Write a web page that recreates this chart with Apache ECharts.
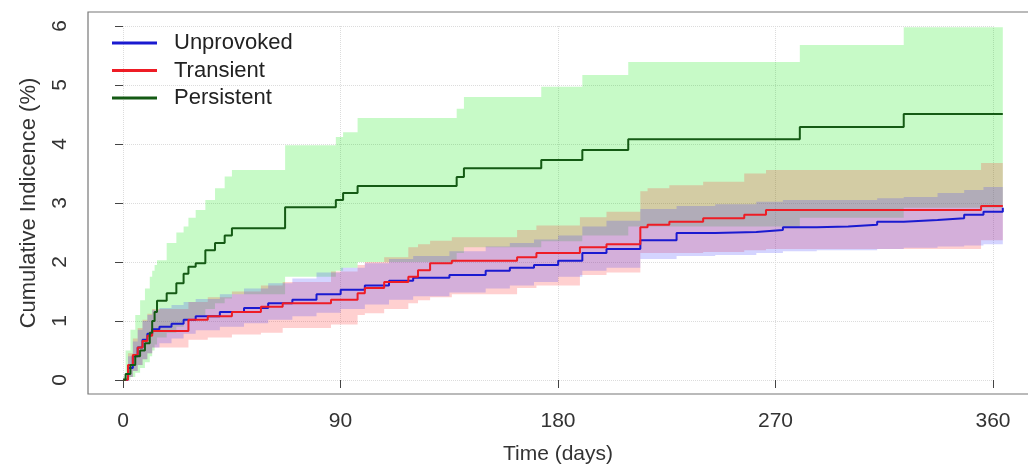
<!DOCTYPE html>
<html>
<head>
<meta charset="utf-8">
<title>Cumulative incidence</title>
<script src="https://cdn.jsdelivr.net/npm/echarts@6/dist/echarts.min.js"></script>
<style>
  html, body { margin: 0; padding: 0; background: #fff; }
  #chart { width: 1028px; height: 468px; }
</style>
</head>
<body>
<div id="chart"></div>
<script>
// ── axis ticks ──
var xTicks = [0, 90, 180, 270, 360];
var yTicks = [0, 1, 2, 3, 4, 5, 6];

// ── Unprovoked ──
var unprovDays = [0, 2, 4, 6, 8, 10, 12, 15, 20, 25, 30, 40, 50, 60, 70, 80, 90, 100, 110, 120,
  135, 150, 160, 170, 180, 190, 200, 214, 229, 245, 262, 273, 287, 300, 312, 323, 337, 348, 356, 364];
var unprovEst = [0, 0.2, 0.4, 0.55, 0.68, 0.78, 0.86, 0.9, 0.95, 1.02, 1.08, 1.15, 1.22, 1.3, 1.36, 1.45, 1.53, 1.6, 1.68, 1.73,
  1.78, 1.85, 1.9, 1.95, 2.02, 2.15, 2.22, 2.37, 2.49, 2.51, 2.54, 2.59, 2.6, 2.63, 2.68, 2.71, 2.74, 2.8, 2.85, 2.92];
var unprovLo = [0, 0.05, 0.15, 0.25, 0.35, 0.45, 0.55, 0.62, 0.7, 0.78, 0.84, 0.9, 0.96, 1.02, 1.08, 1.14, 1.2, 1.28, 1.36, 1.42,
  1.48, 1.55, 1.6, 1.66, 1.75, 1.85, 1.9, 2.05, 2.1, 2.12, 2.15, 2.18, 2.2, 2.2, 2.22, 2.24, 2.26, 2.28, 2.3, 2.35];
var unprovHi = [0, 0.4, 0.65, 0.85, 1.0, 1.1, 1.18, 1.22, 1.27, 1.32, 1.37, 1.45, 1.55, 1.64, 1.72, 1.82, 1.9, 1.98, 2.05, 2.1,
  2.18, 2.26, 2.32, 2.38, 2.45, 2.6, 2.7, 2.9, 2.95, 2.98, 3.02, 3.05, 3.05, 3.05, 3.08, 3.1, 3.17, 3.22, 3.27, 3.34];

// ── Transient ──
var transDays = [0, 2, 4, 6, 8, 10, 12, 27, 35, 45, 57, 66, 86, 97, 100, 108, 118, 122, 127, 136,
  163, 171, 189, 200, 214, 217, 226, 240, 257, 266, 355, 364];
var transEst = [0, 0.25, 0.42, 0.55, 0.66, 0.75, 0.83, 1.02, 1.08, 1.15, 1.24, 1.3, 1.36, 1.47, 1.56, 1.66, 1.75, 1.86, 1.98, 2.02,
  2.08, 2.15, 2.25, 2.3, 2.59, 2.63, 2.68, 2.74, 2.8, 2.88, 2.95, 2.95];
var transLo = [0, 0.05, 0.15, 0.25, 0.35, 0.45, 0.55, 0.68, 0.72, 0.77, 0.8, 0.88, 0.94, 1.1, 1.13, 1.2, 1.3, 1.35, 1.4, 1.45,
  1.56, 1.6, 1.78, 1.82, 2.15, 2.15, 2.15, 2.17, 2.2, 2.22, 2.37, 2.37];
var transHi = [0, 0.45, 0.7, 0.88, 1.02, 1.12, 1.2, 1.32, 1.4, 1.5, 1.6, 1.66, 1.84, 1.95, 2.0, 2.08, 2.25, 2.3, 2.36, 2.42,
  2.54, 2.62, 2.76, 2.85, 3.2, 3.25, 3.3, 3.36, 3.5, 3.56, 3.68, 3.68];

// ── Persistent ──
var persDays = [0, 1, 3, 5, 7, 9, 11, 12, 13, 14, 18, 22, 25, 27, 30, 34, 38, 42, 45, 67,
  88, 91, 97, 138, 141, 173, 190, 209, 280, 323, 364];
var persEst = [0, 0.1, 0.25, 0.4, 0.5, 0.62, 0.8, 1.0, 1.15, 1.34, 1.47, 1.64, 1.8, 1.92, 1.98, 2.2, 2.32, 2.45, 2.57, 2.93,
  3.05, 3.17, 3.29, 3.44, 3.59, 3.73, 3.9, 4.08, 4.29, 4.51, 4.51];
var persLo = [0, 0, 0.05, 0.12, 0.2, 0.3, 0.4, 0.5, 0.6, 0.72, 0.8, 0.9, 1.0, 1.05, 1.1, 1.2, 1.3, 1.38, 1.45, 1.75,
  1.85, 1.9, 2.0, 2.15, 2.25, 2.35, 2.45, 2.6, 2.75, 2.92, 2.92];
var persHi = [0.05, 0.5, 0.85, 1.1, 1.35, 1.55, 1.75, 1.85, 1.95, 2.03, 2.32, 2.5, 2.6, 2.75, 2.88, 3.05, 3.25, 3.45, 3.56, 3.98,
  4.12, 4.2, 4.44, 4.6, 4.8, 4.97, 5.17, 5.39, 5.68, 5.98, 5.98];

var FONT = '"Liberation Sans", Arial, Helvetica, sans-serif';

function pairs(days, vals) {
  return days.map(function (d, i) { return [d, vals[i]]; });
}

// step-shaped confidence band, drawn as one polygon through the axis scales
function band(days, lo, hi, color) {
  return {
    type: 'custom', xAxisIndex: 0, yAxisIndex: 0, silent: true,
    data: [[days[0], lo[0]]],
    renderItem: function (params, api) {
      var top = [], bottom = [];
      for (var i = 0; i < days.length; i++) {
        var x0 = days[i];
        var x1 = i + 1 < days.length ? days[i + 1] : days[i];
        top.push(api.coord([x0, hi[i]]), api.coord([x1, hi[i]]));
        bottom.push(api.coord([x0, lo[i]]), api.coord([x1, lo[i]]));
      }
      return {
        type: 'polygon',
        shape: { points: top.concat(bottom.reverse()) },
        style: { fill: color, stroke: null }
      };
    }
  };
}

function curve(name, days, est, color) {
  return { name: name, type: 'line', xAxisIndex: 0, yAxisIndex: 0, step: 'end', symbol: 'none',
    silent: true, color: color, lineStyle: { color: color, width: 2 }, data: pairs(days, est) };
}

var chart = echarts.init(document.getElementById('chart'), null, { renderer: 'canvas' });

var xStep = xTicks[1] - xTicks[0];
var yStep = yTicks[1] - yTicks[0];
var xPad = 14.56, yPad = 0.24;   // R style 4% range extension

chart.setOption({
  animation: false,
  backgroundColor: '#fff',
  textStyle: { fontFamily: FONT },
  grid: [
    // plot box (data lives here)
    { left: 88, right: -10, top: 12, bottom: 74, show: true, borderColor: '#777', borderWidth: 1.2,
      backgroundColor: 'transparent', outerBoundsMode: 'none' },
    // tick / label frame, spans exactly the tick range
    { left: 123, right: 35, top: 26, bottom: 88, show: false, outerBoundsMode: 'none' }
  ],
  xAxis: [
    { gridIndex: 0, type: 'value', min: xTicks[0] - xPad, max: 364 + xPad, show: false },
    { gridIndex: 1, type: 'value', min: xTicks[0], max: xTicks[xTicks.length - 1], interval: xStep,
      offset: 14, axisLine: { show: false },
      axisTick: { show: true, length: 8, lineStyle: { color: '#444' } },
      axisLabel: { margin: 17, fontSize: 21, color: '#333', fontFamily: FONT },
      splitLine: { show: true, lineStyle: { color: '#dcdcdc', type: 'dotted', width: 1 } },
      name: 'Time (days)', nameLocation: 'middle', nameGap: 50,
      nameTextStyle: { fontSize: 21, color: '#333', fontFamily: FONT } }
  ],
  yAxis: [
    { gridIndex: 0, type: 'value', min: yTicks[0] - yPad, max: yTicks[yTicks.length - 1] + yPad, show: false },
    { gridIndex: 1, type: 'value', min: yTicks[0], max: yTicks[yTicks.length - 1], interval: yStep,
      offset: 35, axisLine: { show: false },
      axisTick: { show: true, length: 8, lineStyle: { color: '#444' } },
      axisLabel: { margin: 17, rotate: 90, fontSize: 21, color: '#333', fontFamily: FONT },
      splitLine: { show: true, lineStyle: { color: '#dcdcdc', type: 'dotted', width: 1 } },
      name: 'Cumulative Indicence (%)', nameLocation: 'middle', nameGap: 48, nameRotate: 90,
      nameTextStyle: { fontSize: 22, color: '#333', fontFamily: FONT } }
  ],
  legend: {
    data: ['Unprovoked', 'Transient', 'Persistent'],
    orient: 'vertical', left: 107, top: 27,
    icon: 'rect', itemWidth: 45, itemHeight: 3, itemGap: 5.5,
    selectedMode: false,
    textStyle: { fontSize: 22, color: '#222', fontFamily: FONT, padding: [0, 0, 0, 12] }
  },
  series: [
    band(persDays, persLo, persHi, 'rgba(0,230,0,0.22)'),
    band(transDays, transLo, transHi, 'rgba(255,40,40,0.22)'),
    band(unprovDays, unprovLo, unprovHi, 'rgba(60,60,255,0.22)'),
    curve('Unprovoked', unprovDays, unprovEst, '#1a1ad0'),
    curve('Transient', transDays, transEst, '#ee1c25'),
    curve('Persistent', persDays, persEst, '#145a14')
  ]
});
</script>
</body>
</html>
